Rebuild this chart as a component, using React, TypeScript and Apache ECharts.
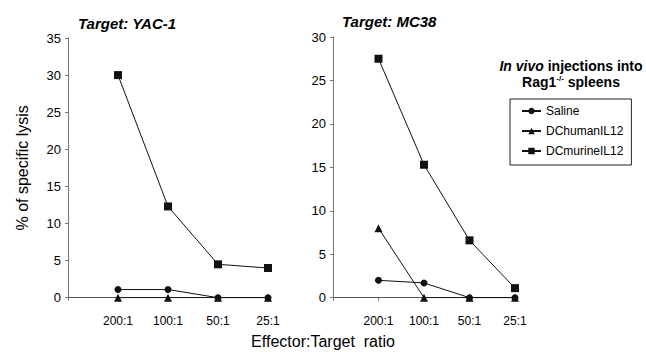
import React, { useEffect, useRef } from "react";
import * as echarts from "echarts";

const categories = ["", "200:1", "100:1", "50:1", "25:1"];
const seriesNames = ["Saline", "DChumanIL12", "DCmurineIL12"];
const yacSaline = ["-", 1.1, 1.1, 0, 0];
const yacHuman = ["-", 0, 0, 0, 0];
const yacMurine = ["-", 30, 12.3, 4.5, 4.0];
const mcSaline = ["-", 2.0, 1.7, 0, 0];
const mcHuman = ["-", 8.0, 0, 0, 0];
const mcMurine = ["-", 27.5, 15.3, 6.6, 1.1];
const symbols = ["circle", "triangle", "rect"];
const symbolSizes = [7, 8, 8];

const FONT = "Liberation Sans, Arial, sans-serif";

export default function App() {
  const ref = useRef<HTMLDivElement>(null);
  useEffect(() => {
    if (!ref.current) return;
    const chart = echarts.init(ref.current, undefined, { renderer: "svg" });
    const mk = (name: string, idx: number, data: any[], si: number) => ({
      name,
      type: "line",
      xAxisIndex: idx,
      yAxisIndex: idx,
      data,
      symbol: symbols[si],
      symbolSize: symbolSizes[si],
      showSymbol: true,
      z: 2 + si,
      lineStyle: { color: "#111", width: 1 },
      itemStyle: { color: "#111" },
    });
    const xAxisBase = (gi: number) => ({
      type: "category",
      gridIndex: gi,
      data: categories,
      boundaryGap: false,
      axisLine: { lineStyle: { color: "#555", width: 1 } },
      axisTick: { show: true, length: 3, lineStyle: { color: "#777" } },
      axisLabel: { color: "#000", fontSize: 12, fontFamily: FONT, margin: 17, interval: 0 },
      splitLine: { show: false },
    });
    const yAxisBase = (gi: number, max: number) => ({
      type: "value",
      gridIndex: gi,
      min: 0,
      max,
      interval: 5,
      axisLine: { show: true, lineStyle: { color: "#777", width: 1 } },
      axisTick: { show: true, length: 3, lineStyle: { color: "#777" } },
      axisLabel: { color: "#000", fontSize: 13, fontFamily: FONT, margin: 7 },
      splitLine: { show: false },
    });
    chart.setOption({
      animation: false,
      backgroundColor: "#fff",
      title: [
        {
          text: "Target: YAC-1",
          left: 73,
          top: 11,
          textStyle: { fontSize: 15, fontWeight: "bold", fontStyle: "italic", fontFamily: FONT, color: "#000" },
        },
        {
          text: "Target: MC38",
          left: 337,
          top: 9,
          textStyle: { fontSize: 15, fontWeight: "bold", fontStyle: "italic", fontFamily: FONT, color: "#000" },
        },
      ],
      grid: [
        { left: 68, top: 38, width: 200, bottom: 54.3 },
        { left: 333, top: 37, width: 182, bottom: 54.3 },
      ],
      xAxis: [xAxisBase(0), xAxisBase(1)],
      yAxis: [
        {
          ...yAxisBase(0, 35),
          name: "% of specific lysis",
          nameLocation: "middle",
          nameRotate: 90,
          nameGap: 38,
          nameTextStyle: { fontSize: 16, fontFamily: FONT, color: "#000" },
        },
        yAxisBase(1, 30),
      ],
      legend: {
        orient: "vertical",
        left: 510,
        top: 99,
        data: seriesNames,
        borderColor: "#222",
        borderWidth: 1,
        padding: [6, 8, 8, 11],
        itemGap: 8,
        itemWidth: 19,
        itemHeight: 8,
        itemTextGap: 5,
        textStyle: { fontSize: 12, fontFamily: FONT, color: "#000" },
      },
      graphic: [
        {
          type: "text",
          left: "center",
          top: 333,
          style: { text: "Effector:Target  ratio", font: `16px ${FONT}`, fill: "#000" },
        },
        {
          type: "text",
          x: 571,
          y: 58,
          style: {
            text: "{i|In vivo}{b| injections into}\n{b|Rag1}{s|-/-}{b| spleens}",
            align: "center",
            fill: "#000",
            rich: {
              i: { font: `italic bold 14px ${FONT}`, lineHeight: 16 },
              b: { font: `bold 14px ${FONT}`, lineHeight: 16 },
              s: { font: `bold 8px ${FONT}`, verticalAlign: "top", lineHeight: 16, padding: [0, 0, 6, 0] },
            },
          },
        },
      ],
      series: [
        mk("Saline", 0, yacSaline, 0),
        mk("DChumanIL12", 0, yacHuman, 1),
        mk("DCmurineIL12", 0, yacMurine, 2),
        mk("Saline", 1, mcSaline, 0),
        mk("DChumanIL12", 1, mcHuman, 1),
        mk("DCmurineIL12", 1, mcMurine, 2),
      ],
    });
    return () => chart.dispose();
  }, []);
  return <div ref={ref} style={{ width: 646, height: 352, position: "absolute", left: 0, top: 0 }} />;
}
